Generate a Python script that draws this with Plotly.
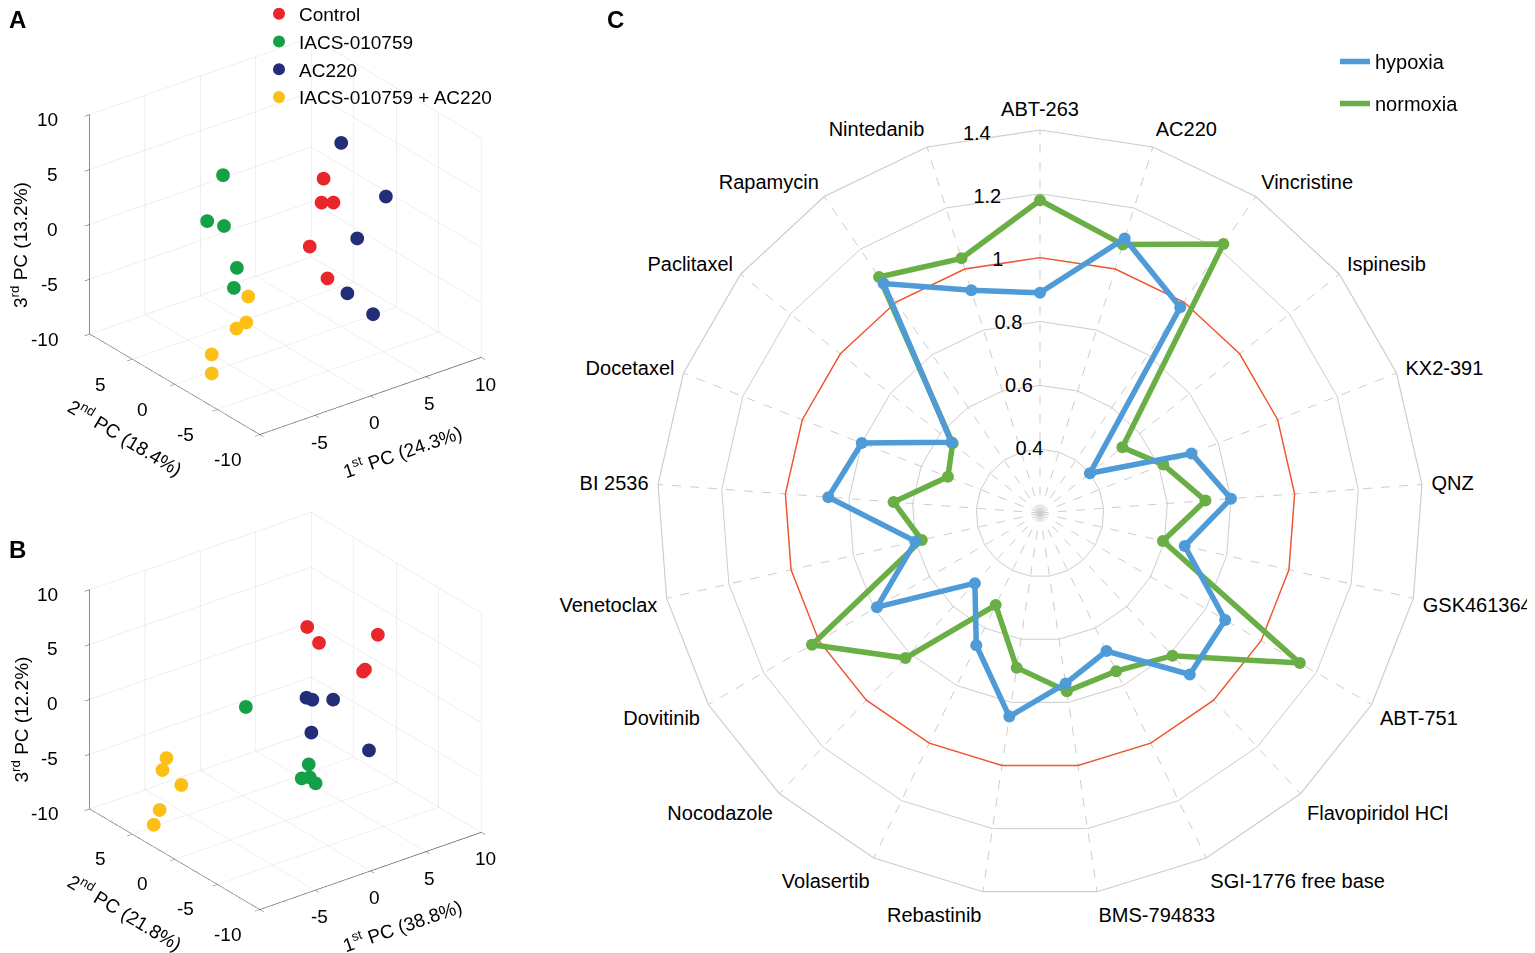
import plotly.graph_objects as go

# ---------------- Data ----------------
groups = ["Control", "IACS-010759", "AC220", "IACS-010759 + AC220"]
group_colors = ["#E8262B", "#14A046", "#232D78", "#FBBF16"]

# Panel A (PC1, PC2, PC3) per group
A_pc1 = [[1.12, 0.94, 2.01, -0.13, 1.47],
         [-3.35, -4.78, -3.26, -2.10, -2.37],
         [3.48, 5.98, 3.39, 2.50, 4.82],
         [-4.91, -5.09, -5.98, -8.21, -8.21]]
A_pc2 = [[-3, -3, -3, -3, -3],
         [3, 3, 3, 3, 3],
         [-2, -4, -4, -4, -4],
         [-2, -2, -2, -2, -2]]
A_pc3 = [[6.23, 4.11, 3.74, 0.48, -2.99],
         [5.37, 1.69, 0.71, -3.52, -5.25],
         [8.20, 3.35, 0.44, -4.25, -6.97],
         [-2.85, -5.15, -5.39, -6.97, -8.70]]

# Panel B
B_pc1 = [[3.48, 4.55, 6.79, 5.63, 5.45],
         [-1.29, -0.22, -0.85, -0.13, 0.40],
         [1.88, 2.41, 4.29, 2.32, 5.22],
         [-6.92, -7.28, -5.58, -7.54, -8.84]]
B_pc2 = [[2, 2, -2, -2, -2],
         [3, -3, -3, -3, -3],
         [0, 0, 0, 0, -3],
         [5, 5, 5, 5, 4]]
B_pc3 = [[5.54, 3.71, 5.50, 2.73, 2.61],
         [-0.53, -3.39, -4.45, -4.61, -5.34],
         [0.57, 0.20, -0.45, -2.76, -4.03],
         [-4.13, -5.09, -7.05, -8.64, -9.08]]

A_titles = ["1<sup>st</sup> PC (24.3%)", "2<sup>nd</sup> PC (18.4%)", "3<sup>rd</sup> PC (13.2%)"]
B_titles = ["1<sup>st</sup> PC (38.8%)", "2<sup>nd</sup> PC (21.8%)", "3<sup>rd</sup> PC (12.2%)"]
pc_ticks = [-10, -5, 0, 5, 10]
pc1_labeled = [-5, 0, 5, 10]
pc2_labeled = [-10, -5, 0, 5]
pc3_labeled = [-10, -5, 0, 5, 10]

# Panel C radar
drugs = ["ABT-263", "AC220", "Vincristine", "Ispinesib", "KX2-391", "QNZ",
         "GSK461364", "ABT-751", "Flavopiridol HCl", "SGI-1776 free base",
         "BMS-794833", "Rebastinib", "Volasertib", "Nocodazole", "Dovitinib",
         "Venetoclax", "BI 2536", "Docetaxel", "Paclitaxel", "Rapamycin",
         "Nintedanib"]
hypoxia = [0.89, 1.10, 0.98, 0.40, 0.71, 0.80, 0.665, 0.87, 0.89, 0.68, 0.74,
           0.845, 0.66, 0.50, 0.79, 0.60, 0.865, 0.80, 0.555, 1.07, 0.93]
normoxia = [1.18, 1.08, 1.22, 0.53, 0.615, 0.72, 0.595, 1.14, 0.81, 0.75, 0.765,
            0.69, 0.52, 0.82, 1.025, 0.58, 0.66, 0.51, 0.55, 1.095, 1.035]
reference_level = 1.0
radial_ticks = [0.4, 0.6, 0.8, 1.0, 1.2, 1.4]
radial_labels = ["0.4", "0.6", "0.8", "1", "1.2", "1.4"]

FONT = "Liberation Sans, Arial, Helvetica, sans-serif"
BLUE = "#4F9BD8"
GREEN = "#6AAF45"

# page body has an 8px margin; the figure fills the rest of the 1535x953 window
W, H = 1527, 945
OFF = 8


def px(x):
    return (x - OFF) / W


def py(y):
    return 1 - (y - OFF) / H


fig = go.Figure()

# ---------------- 3D scatter panels ----------------
for scene, P1, P2, P3, show in [("scene", A_pc1, A_pc2, A_pc3, True),
                                ("scene2", B_pc1, B_pc2, B_pc3, False)]:
    for g, name in enumerate(groups):
        fig.add_trace(go.Scatter3d(
            x=P1[g], y=P2[g], z=P3[g], mode="markers", name=name,
            marker=dict(size=8, color=group_colors[g], line=dict(width=0), opacity=1),
            scene=scene, showlegend=show, legend="legend", legendgroup=name,
            hoverinfo="skip"))


def ax3d():
    return dict(range=[-10, 10], autorange=False, tickvals=pc_ticks,
                showticklabels=False, title=dict(text=""),
                showgrid=True, gridcolor="rgb(222,222,222)", gridwidth=1,
                showbackground=False, showline=True, linecolor="rgb(70,70,70)",
                linewidth=1.5, ticks="outside", ticklen=6, tickcolor="rgb(70,70,70)",
                zeroline=False, showspikes=False)


def scene_annotations(titles):
    ann = []
    tf = dict(size=19, color="black", family=FONT)
    for v in pc3_labeled:
        ann.append(dict(x=-10, y=10, z=v, text=str(v), showarrow=False, xanchor="right",
                        xshift=-30, yshift=-5, font=tf))
    for v in pc2_labeled:
        ann.append(dict(x=-10, y=v, z=-10, text=str(v), showarrow=False,
                        xshift=-32, yshift=-25, font=tf))
    for v in pc1_labeled:
        ann.append(dict(x=v, y=-10, z=-10, text=str(v), showarrow=False,
                        xshift=4, yshift=-27, font=tf))
    ann.append(dict(x=-10, y=10, z=0, text=titles[2], showarrow=False, textangle=-90,
                    xshift=-70, yshift=-21, font=tf))
    ann.append(dict(x=-10, y=0, z=-10, text=titles[1], showarrow=False, textangle=31,
                    xshift=-49, yshift=-53, font=tf))
    ann.append(dict(x=0, y=-10, z=-10, text=titles[0], showarrow=False, textangle=-19,
                    xshift=31, yshift=-55, font=tf))
    return ann


def scene_layout(domain_y, titles):
    return dict(
        domain=dict(x=[px(25), px(546)], y=domain_y),
        xaxis=ax3d(), yaxis=ax3d(), zaxis=ax3d(),
        aspectmode="manual", aspectratio=dict(x=1.225, y=1.225, z=1.08),
        camera=dict(projection=dict(type="orthographic"),
                    eye=dict(x=-1.109, y=-1.444, z=0.928),
                    up=dict(x=0, y=0, z=1), center=dict(x=0, y=0, z=0)),
        annotations=scene_annotations(titles),
        bgcolor="rgba(0,0,0,0)", dragmode=False)


# ---------------- Radar ----------------
theta_closed = drugs + [drugs[0]]
fig.add_trace(go.Scatterpolar(
    r=[reference_level] * len(theta_closed), theta=theta_closed, mode="lines",
    line=dict(color="#F2552C", width=1.4), showlegend=False, hoverinfo="skip",
    subplot="polar"))
for name, vals, color, rank in [("normoxia", normoxia, GREEN, 2),
                                ("hypoxia", hypoxia, BLUE, 1)]:
    fig.add_trace(go.Scatterpolar(
        r=vals + [vals[0]], theta=theta_closed, mode="lines", name=name,
        line=dict(color=color, width=5.5), subplot="polar", legend="legend2",
        legendrank=rank, legendgroup=name, hoverinfo="skip"))
    fig.add_trace(go.Scatterpolar(
        r=vals, theta=drugs, mode="markers", marker=dict(size=12, color=color),
        subplot="polar", showlegend=False, hoverinfo="skip"))

# radial tick labels on overlay polar (numeric angle, slightly left of top)
fig.add_trace(go.Scatterpolar(
    r=radial_ticks, theta=[-9.5] * len(radial_ticks), thetaunit="degrees",
    mode="text", text=radial_labels, textfont=dict(size=20, color="black", family=FONT),
    subplot="polar2", showlegend=False, hoverinfo="skip"))

cx, cy, R = 1040, 513, 383
pdom = dict(x=[px(cx - R), px(cx + R)], y=[py(cy + R), py(cy - R)])

fig.update_layout(
    width=W, height=H, margin=dict(l=0, r=0, t=0, b=0, autoexpand=False),
    paper_bgcolor="white", font=dict(family=FONT, size=20, color="black"),
    scene=scene_layout([py(236 + 228), py(236 - 228)], A_titles),
    scene2=scene_layout([py(710.5 + 228), py(710.5 - 228)], B_titles),
    polar=dict(
        domain=pdom, bgcolor="white", gridshape="linear",
        radialaxis=dict(range=[0.2, 1.4], tickvals=radial_ticks, showticklabels=False,
                        gridcolor="rgb(205,205,205)", gridwidth=1.2, showline=False,
                        ticks=""),
        angularaxis=dict(type="category", categoryarray=drugs, rotation=90,
                         direction="clockwise", gridcolor="rgb(205,205,205)",
                         griddash="dash", gridwidth=1, showline=True,
                         linecolor="rgb(205,205,205)", linewidth=1.2,
                         tickfont=dict(size=20, color="black"), ticks="outside",
                         ticklen=5, tickcolor="rgba(0,0,0,0)")),
    polar2=dict(
        domain=pdom, bgcolor="rgba(0,0,0,0)",
        radialaxis=dict(range=[0.2, 1.4], visible=False),
        angularaxis=dict(rotation=90, direction="clockwise", visible=False)),
    legend=dict(x=px(259), y=py(-5), xanchor="left", yanchor="top",
                font=dict(size=19), bgcolor="rgba(0,0,0,0)", tracegroupgap=0,
                itemsizing="constant"),
    legend2=dict(x=px(1335), y=py(42), xanchor="left", yanchor="top",
                 font=dict(size=20), bgcolor="rgba(0,0,0,0)", tracegroupgap=13,
                 traceorder="grouped"),
)
for lbl, lx, ly in [("A", 17, 19), ("B", 17, 549), ("C", 615, 19)]:
    fig.add_annotation(text=f"<b>{lbl}</b>", x=px(lx), y=py(ly),
                       xref="paper", yref="paper", showarrow=False,
                       font=dict(size=24, color="black"), xanchor="center", yanchor="middle")

fig.write_html("out.html")
